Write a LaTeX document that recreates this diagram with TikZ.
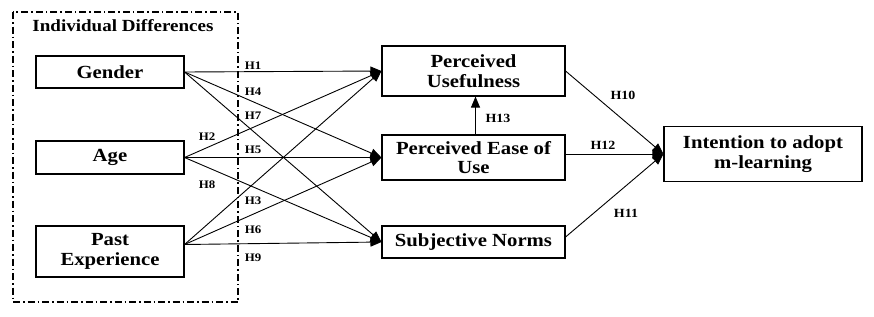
\documentclass[tikz,border=0pt]{standalone}
\usepackage{fontspec}
\setmainfont{Liberation Serif}[FakeStretch=1.12]
\usetikzlibrary{arrows.meta}
\tikzset{
  box/.style={draw, line width=1.1pt, align=center, inner sep=0pt, font=\bfseries\fontsize{18.5}{19.5}\selectfont},
  conn/.style={line width=0.9pt, -{Triangle[length=11pt,width=9pt]}},
  hlab/.style={inner sep=0pt, font=\bfseries\fontsize{11.5}{12}\selectfont},
  hlabr/.style={inner sep=0pt, font=\bfseries\fontsize{12.5}{13}\selectfont},
  group/.style={line width=1.5pt, dash pattern=on 7pt off 3pt on 1.5pt off 3pt}
}
\begin{document}
\begin{tikzpicture}[x=1pt,y=-1pt]
\useasboundingbox (0,0) rectangle (874,316);
% group frame
\draw[group] (13,12) rectangle (238,302);
\node[inner sep=0pt, font=\bfseries\fontsize{17}{18}\selectfont] (title) at (123,26) {Individual Differences};
% nodes
\node[box, minimum width=148pt, minimum height=32pt] (gender) at (110,72) {Gender};
\node[box, minimum width=148pt, minimum height=33pt] (age) at (110,157.5) {Age};
\node[box, minimum width=148pt, minimum height=51pt] (past) at (110,251.5) {Past\\Experience};
\node[box, minimum width=183pt, minimum height=50pt] (pu) at (473.5,71) {Perceived\\Usefulness};
\node[box, minimum width=183pt, minimum height=45pt] (peu) at (473.5,157.5) {Perceived Ease of\\Use};
\node[box, minimum width=183pt, minimum height=32pt] (sn) at (473.5,242) {Subjective Norms};
\node[box, minimum width=198pt, minimum height=55pt] (int) at (763,154) {Intention to adopt\\m-learning};
% connectors
\draw[conn] (gender.east) -- (pu.west);
\draw[conn] (gender.east) -- (peu.west);
\draw[conn] (gender.east) -- (sn.west);
\draw[conn] (age.east) -- (pu.west);
\draw[conn] (age.east) -- (peu.west);
\draw[conn] (age.east) -- (sn.west);
\draw[conn] ([yshift=7pt]past.east) -- (pu.west);
\draw[conn] ([yshift=7pt]past.east) -- (peu.west);
\draw[conn] ([yshift=7pt]past.east) -- (sn.west);
\draw[conn] (pu.east) -- (int.west);
\draw[conn] ([yshift=3.5pt]peu.east) -- (int.west);
\draw[conn] ([yshift=5pt]sn.east) -- (int.west);
\draw[conn] ([xshift=2pt]peu.north) -- ([xshift=2pt]pu.south);
% labels
\node[hlab] (h1) at (253,66) {H1};
\node[hlab] (h4) at (253,92) {H4};
\node[hlab] (h7) at (253,116) {H7};
\node[hlab] (h2) at (207,136.5) {H2};
\node[hlab] (h5) at (253,150) {H5};
\node[hlab] (h8) at (207,185) {H8};
\node[hlab] (h3) at (253,201) {H3};
\node[hlab] (h6) at (253,230) {H6};
\node[hlab] (h9) at (253,258) {H9};
\node[hlabr] (h10) at (623,95.5) {H10};
\node[hlabr] (h13) at (498,118) {H13};
\node[hlabr] (h12) at (603,145) {H12};
\node[hlabr] (h11) at (626,213) {H11};
\end{tikzpicture}
\end{document}
